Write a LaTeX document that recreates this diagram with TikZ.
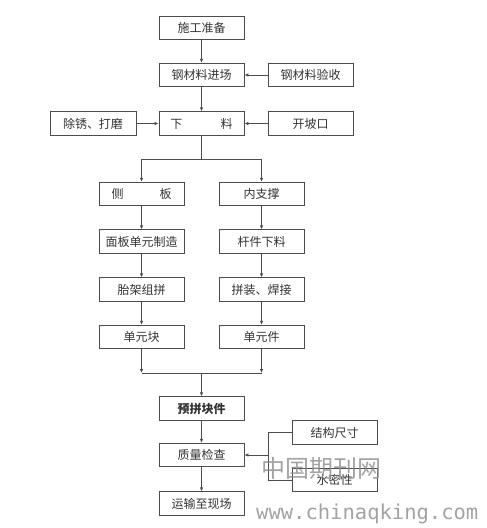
\documentclass[tikz,border=0pt]{standalone}
\usepackage{fontspec}
\setmainfont{Noto Sans CJK SC}
\newfontfamily\wmmono{DejaVu Sans Mono}
\usetikzlibrary{arrows.meta}
\begin{document}
\begin{tikzpicture}[x=1pt,y=-1pt,
  box/.style={draw=black!70, line width=0.8pt, fill=white, minimum width=85pt, minimum height=23.5pt, inner sep=0pt, font=\fontsize{12}{14}\selectfont, text=black!80},
  conn/.style={draw=black!70, line width=0.8pt},
  arr/.style={conn, -{Latex[length=4pt,width=3.5pt]}},
  wm/.style={text=black!45, opacity=0.8, inner sep=0pt}]
\useasboundingbox (0,0) rectangle (487,528);
\fill[white] (0,0) rectangle (487,528);
% boxes
\node[box] (prep) at (201.5,28) {施工准备};
\node[box] (jin) at (201.5,75) {钢材料进场};
\node[box] (ys) at (310.5,75) {钢材料验收};
\node[box, minimum width=86pt] (cx) at (93,123.5) {除锈、打磨};
\node[box] (xl) at (201.5,123.5) {下\hspace{3.2em}料};
\node[box] (kp) at (310.5,123.5) {开坡口};
\node[box] (cb) at (141.5,194) {侧\hspace{3em}板};
\node[box] (nz) at (261.5,194) {内支撑};
\node[box] (mb) at (141.5,241.5) {面板单元制造};
\node[box] (gx) at (261.5,241.5) {杆件下料};
\node[box] (tj) at (141.5,289.5) {胎架组拼};
\node[box] (pz) at (261.5,289.5) {拼装、焊接};
\node[box] (dyk) at (141.5,337) {单元块};
\node[box] (dyj) at (261.5,337) {单元件};
\node[box, font=\fontsize{12}{14}\selectfont\bfseries] (yp) at (201.5,408.5) {预拼块件};
\node[box] (zl) at (201.5,455) {质量检查};
\node[box] (yx) at (201.5,503.5) {运输至现场};
\node[box] (jg) at (334.5,432.5) {结构尺寸};
\node[box] (sm) at (334.5,480) {水密性};
% coordinates
\coordinate (b0) at (201.5,159);
\coordinate (bl) at (141.5,159);
\coordinate (br) at (261.5,159);
\coordinate (ml) at (141.5,373);
\coordinate (mr) at (261.5,373);
\coordinate (m0) at (201.5,373);
\coordinate (q0) at (268,455);
\coordinate (qt) at (268,432.5);
\coordinate (qb) at (268,480);
% connectors
\draw[arr] (prep) -- (jin);
\draw[arr] (ys) -- (jin);
\draw[arr] (jin) -- (xl);
\draw[arr] (cx) -- (xl);
\draw[arr] (kp) -- (xl);
\draw[conn] (xl) -- (b0);
\draw[conn] (bl) -- (br);
\draw[arr] (bl) -- (cb);
\draw[arr] (br) -- (nz);
\draw[arr] (cb) -- (mb);
\draw[arr] (mb) -- (tj);
\draw[arr] (tj) -- (dyk);
\draw[arr] (nz) -- (gx);
\draw[arr] (gx) -- (pz);
\draw[arr] (pz) -- (dyj);
\draw[arr] (dyk) -- (ml);
\draw[arr] (dyj) -- (mr);
\draw[conn] (ml) -- (mr);
\draw[arr] (m0) -- (yp);
\draw[arr] (yp) -- (zl);
\draw[arr] (zl) -- (yx);
\draw[conn] (jg.west) -- (qt) -- (qb) -- (sm.west);
\draw[arr] (q0) -- (zl.east);
% watermark
\node[wm, anchor=west, font=\fontsize{24}{26}\selectfont] (wm1) at (261,468) {中国期刊网};
\node[wm, anchor=west, font=\fontsize{20.5}{22}\wmmono] (wm2) at (256,514) {www.chinaqking.com};
\end{tikzpicture}
\end{document}
